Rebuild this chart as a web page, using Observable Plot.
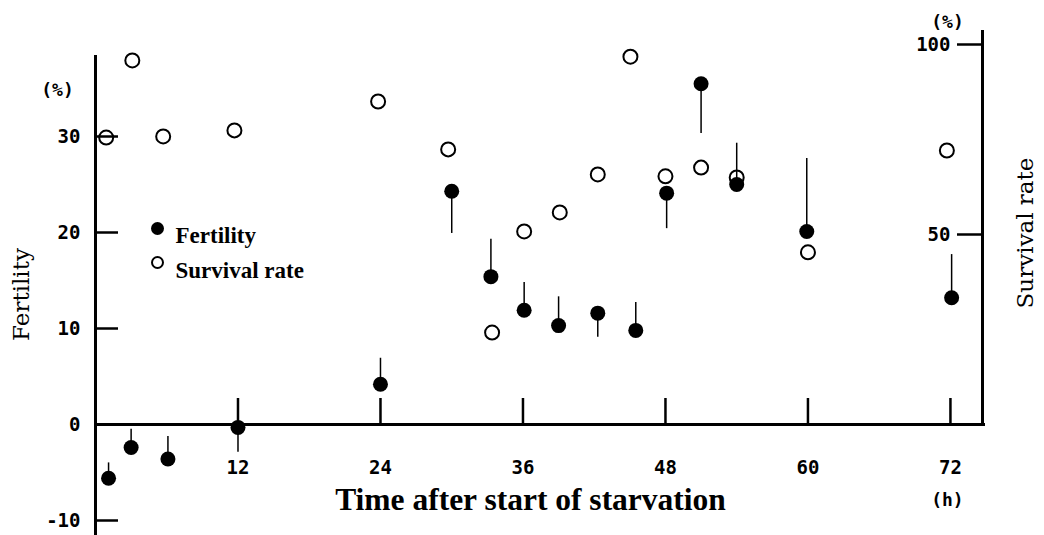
<!DOCTYPE html>
<html><head><meta charset="utf-8">
<script src="https://cdn.jsdelivr.net/npm/d3@7"></script>
<script src="https://cdn.jsdelivr.net/npm/@observablehq/plot@0.6"></script>
<style>html,body{margin:0;padding:0;background:#fff;} #chart svg{display:block}</style>
</head><body><div id="chart"></div>
<script>
// ---- data ----
const fertilityHours   = [1.1, 3, 6.1, 12, 24, 30, 33.3, 36.1, 39, 42.3, 45.5, 48.1, 51, 54, 59.9, 72.1];
const fertility        = [-5.6, -2.4, -3.6, -0.3, 4.2, 24.3, 15.4, 11.9, 10.3, 11.6, 9.8, 24.1, 35.5, 25.0, 20.1, 13.2];
const fertilityBarEnd  = [-4.0, -0.5, -1.25, -2.9, 6.9, 19.9, 19.3, 14.8, 13.3, 9.1, 12.7, 20.4, 30.3, 29.3, 27.7, 17.7];
const survivalHours    = [0.9, 3.1, 5.7, 11.7, 23.8, 29.7, 33.4, 36.1, 39.1, 42.3, 45.05, 48, 51, 54, 60, 71.7];
const survival         = [75.5, 95.8, 75.8, 77.4, 85.0, 72.4, 24.2, 50.8, 55.8, 65.8, 96.8, 65.3, 67.6, 65.0, 45.3, 72.1];
const xTicks           = [12, 24, 36, 48, 60, 72];
const fertilityTicks   = [-10, 0, 10, 20, 30];
const survivalTicks    = [50, 100];
const legendLabels     = ["Fertility", "Survival rate"];

// ---- layout ----
const W = 1044, H = 535, mL = 95, mR = 62, mT = 30, mB = 0;
const plotW = W - mL - mR;
const survToFert = s => s * 3.8 / 9.6;   // right axis (%) -> left axis units

const fert = fertilityHours.map((t, i) => ({t, v: fertility[i], e: fertilityBarEnd[i]}));
const surv = survivalHours.map((t, i) => ({t, s: survival[i]}));

const mono = "'DejaVu Sans Mono', 'Liberation Mono', monospace";
const serif = "'Liberation Serif', 'Times New Roman', serif";
const wideSerif = "'DejaVu Serif', serif";
const tickFont = {fontFamily: mono, fontWeight: "bold", fontSize: 19, letterSpacing: 1.2};

const chart = Plot.plot({
  width: W, height: H,
  marginLeft: mL, marginRight: mR, marginTop: mT, marginBottom: mB,
  x: {domain: [0, 74.7], axis: null},
  y: {domain: [-11.5625, 41.0417], axis: null},
  style: {background: "#fff", color: "#000", fontFamily: serif},
  marks: [
    // axis lines
    Plot.ruleX([0], {strokeWidth: 3, insetTop: 25}),
    Plot.ruleX([74.7], {strokeWidth: 3, insetBottom: 111}),
    Plot.ruleY([0], {strokeWidth: 3, insetRight: -3}),
    // ticks (inward)
    Plot.tickY(fertilityTicks.filter(d => d !== 0), {y: d => d, strokeWidth: 2.5, insetRight: plotW - 23}),
    Plot.tickY(survivalTicks, {y: d => survToFert(d), strokeWidth: 2.5, insetLeft: plotW - 25}),
    Plot.tickX(xTicks, {x: d => d, strokeWidth: 2.5, insetTop: (424 - mT) - 26, insetBottom: 111}),
    // tick labels
    Plot.text(fertilityTicks, {y: d => d, text: d => String(d), frameAnchor: "left", dx: -15, textAnchor: "end", ...tickFont}),
    Plot.text(survivalTicks, {y: d => survToFert(d), text: d => String(d), frameAnchor: "right", dx: -32, textAnchor: "end", ...tickFont}),
    Plot.text(xTicks, {x: d => d, y: () => 0, text: d => String(d), dy: 43, textAnchor: "middle", ...tickFont}),
    // units
    Plot.text(["(%)"], {frameAnchor: "top-left", dx: -38, dy: 53, textAnchor: "middle", ...tickFont, fontSize: 18}),
    Plot.text(["(%)"], {frameAnchor: "top-right", dx: -35, dy: -15, textAnchor: "middle", ...tickFont, fontSize: 18}),
    Plot.text(["(h)"], {x: () => 72, y: () => 0, dx: -3, dy: 76, textAnchor: "middle", ...tickFont, fontSize: 18}),
    // axis titles
    Plot.text(["Fertility"], {frameAnchor: "left", dx: -74, dy: 11.5, rotate: -90, textAnchor: "middle",
      fontFamily: wideSerif, fontSize: 23, letterSpacing: 1.2}),
    Plot.text(["Survival rate"], {frameAnchor: "right", dx: 43, dy: -50, rotate: -90, textAnchor: "middle",
      fontFamily: wideSerif, fontSize: 23, letterSpacing: 1.6}),
    Plot.text(["Time after start of starvation"], {frameAnchor: "bottom", dx: -8.5, dy: -26, textAnchor: "middle",
      fontFamily: serif, fontWeight: "bold", fontSize: 31.5}),
    // data
    Plot.dot(surv, {x: "t", y: d => survToFert(d.s), r: 7, stroke: "#000", strokeWidth: 2, fill: "none"}),
    Plot.ruleX(fert, {x: "t", y1: "v", y2: "e", strokeWidth: 1.5}),
    Plot.dot(fert, {x: "t", y: "v", r: 7.5, fill: "#000", stroke: "none"}),
    // legend
    Plot.dot([legendLabels[0]], {frameAnchor: "top-left", dx: 62, dy: 198, r: 6.5, fill: "#000", stroke: "none"}),
    Plot.dot([legendLabels[1]], {frameAnchor: "top-left", dx: 62, dy: 232, r: 5.5, stroke: "#000", strokeWidth: 2, fill: "none"}),
    Plot.text([legendLabels[0]], {frameAnchor: "top-left", dx: 80, dy: 196, textAnchor: "start",
      fontFamily: serif, fontWeight: "bold", fontSize: 23}),
    Plot.text([legendLabels[1]], {frameAnchor: "top-left", dx: 80, dy: 231, textAnchor: "start",
      fontFamily: serif, fontWeight: "bold", fontSize: 23})
  ]
});
document.getElementById("chart").appendChild(chart);
</script>
</body></html>
